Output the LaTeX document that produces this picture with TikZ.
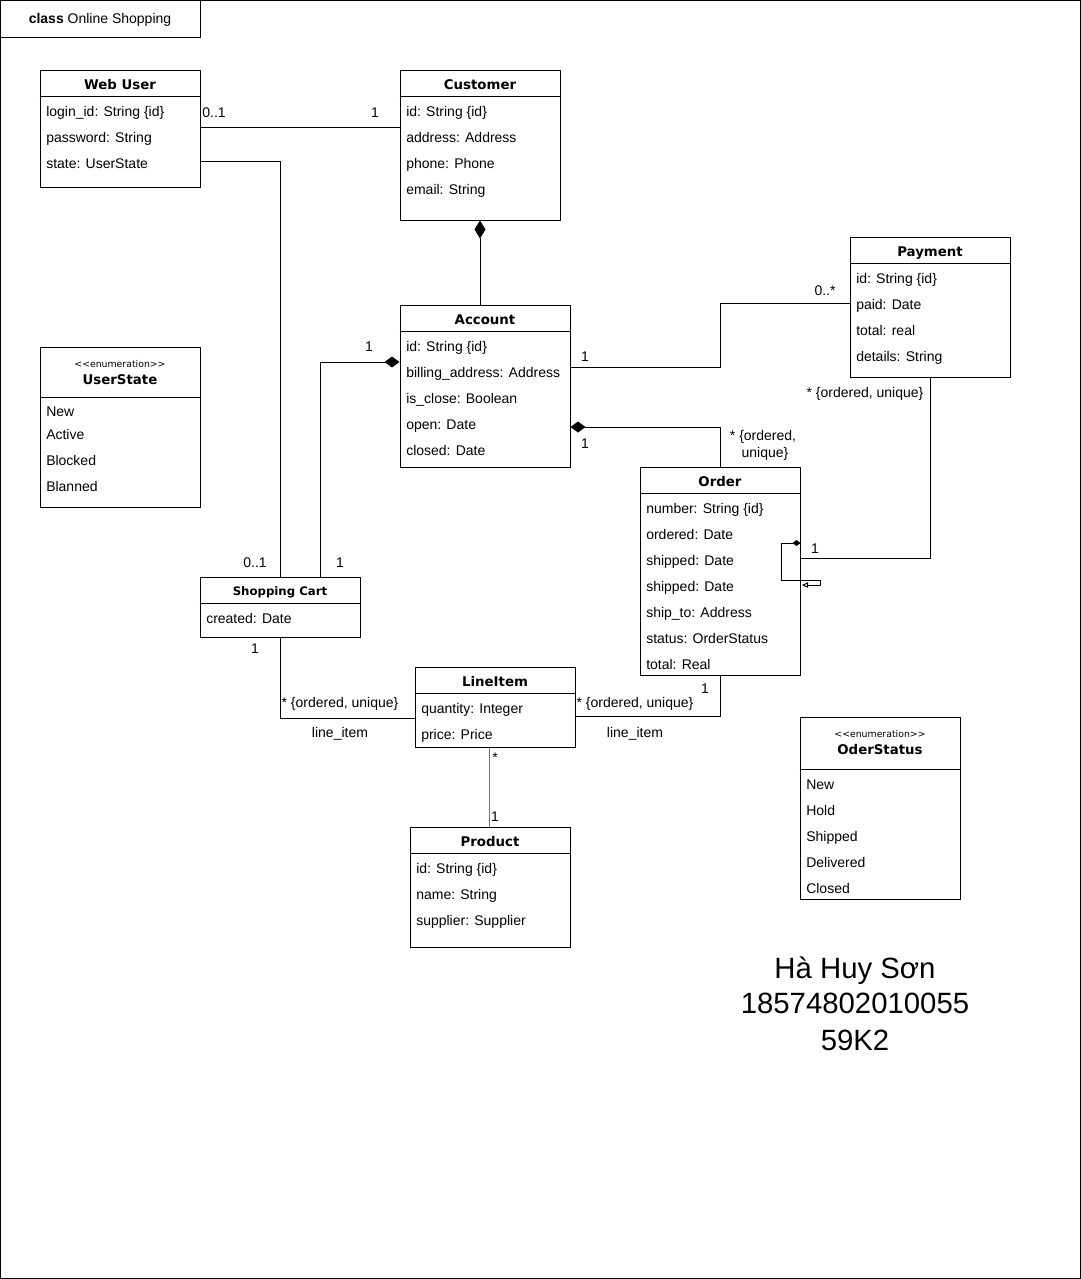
\documentclass[tikz,border=0pt]{standalone}
\usepackage{fontspec}
\setmainfont{Liberation Sans}
\newfontfamily\headfont{DejaVu Sans}
\usetikzlibrary{arrows.meta,positioning,calc,fit}
\tikzset{
  umlframe/.style = {rectangle, draw=black, line width=0.75pt, inner sep=0pt},
  classbox/.style = {rectangle, draw=black, fill=white, line width=0.75pt, inner sep=0pt},
  classrule/.style = {draw=black, line width=0.75pt},
  classname/.style = {anchor=base, inner sep=0pt, font=\headfont\bfseries\fontsize{10}{12}\selectfont},
  smallname/.style = {classname, font=\headfont\bfseries\fontsize{8.8}{11}\selectfont},
  stereo/.style = {anchor=base, inner sep=0pt, font=\headfont\fontsize{7}{8}\selectfont},
  attr/.style = {anchor=base west, inner sep=0pt, font=\fontsize{10.5}{12.6}\selectfont},
  mult/.style = {anchor=base, inner sep=0pt, font=\fontsize{10.5}{12.6}\selectfont, align=center},
  bigtext/.style = {anchor=base, inner sep=0pt, font=\fontsize{22}{26}\selectfont},
  assoc/.style = {draw=black, line width=0.75pt},
  comp/.style = {assoc, {Diamond[length=11.25pt, width=8.25pt]}-},
  compv/.style = {assoc, {Diamond[length=13.5pt, width=8.25pt]}-}
}
\begin{document}
\begin{tikzpicture}[x=0.75pt, y=-0.75pt]
  \useasboundingbox (0,0) rectangle (1081,1279);
  \node[umlframe, fit={(0.5,0.5)(1080.5,1278.5)}] (frame) {};
  \node[umlframe, fit={(0.5,0.5)(200,37)}] (tab) {};
  \node[attr, anchor=base] (tabtext) at (100,23) {\textbf{class} Online Shopping};

  % classes
  \node[classbox, fit={(40,70)(200,187)}] (webuser) {};
  \draw[classrule] (webuser.west |- 0,96) -- (webuser.east |- 0,96);
  \node[classname] (webuser-h) at (120,89) {Web User};
  \foreach \t [count=\i from 0] in {login\_id: String \{id\}, password: String, state: UserState}
    \node[attr] (webuser-\i) at (46,116+26*\i) {\t};

  \node[classbox, fit={(400,70)(560,220)}] (customer) {};
  \draw[classrule] (customer.west |- 0,96) -- (customer.east |- 0,96);
  \node[classname] (customer-h) at (480,89) {Customer};
  \foreach \t [count=\i from 0] in {id: String \{id\}, address: Address, phone: Phone, email: String}
    \node[attr] (customer-\i) at (406,116+26*\i) {\t};

  \node[classbox, fit={(850,237)(1010,377)}] (payment) {};
  \draw[classrule] (payment.west |- 0,263) -- (payment.east |- 0,263);
  \node[classname] (payment-h) at (930,256) {Payment};
  \foreach \t [count=\i from 0] in {id: String \{id\}, paid: Date, total: real, details: String}
    \node[attr] (payment-\i) at (856,283+26*\i) {\t};

  \node[classbox, fit={(400,305)(570,467)}] (account) {};
  \draw[classrule] (account.west |- 0,331) -- (account.east |- 0,331);
  \node[classname] (account-h) at (485,324) {Account};
  \foreach \t [count=\i from 0] in {id: String \{id\}, billing\_address: Address, is\_close: Boolean, open: Date, closed: Date}
    \node[attr] (account-\i) at (406,351+26*\i) {\t};

  \node[classbox, fit={(640,467)(800,675)}] (order) {};
  \draw[classrule] (order.west |- 0,493) -- (order.east |- 0,493);
  \node[classname] (order-h) at (720,486) {Order};
  \foreach \t [count=\i from 0] in {number: String \{id\}, ordered: Date, shipped: Date, shipped: Date, ship\_to: Address, status: OrderStatus, total: Real}
    \node[attr] (order-\i) at (646,513+26*\i) {\t};

  \node[classbox, fit={(200,577)(360,637)}] (cart) {};
  \draw[classrule] (cart.west |- 0,603) -- (cart.east |- 0,603);
  \node[smallname] (cart-h) at (280,595) {Shopping Cart};
  \node[attr] (cart-0) at (206,623) {created: Date};

  \node[classbox, fit={(415,667)(575,747)}] (lineitem) {};
  \draw[classrule] (lineitem.west |- 0,693) -- (lineitem.east |- 0,693);
  \node[classname] (lineitem-h) at (495,686) {LineItem};
  \foreach \t [count=\i from 0] in {quantity: Integer, price: Price}
    \node[attr] (lineitem-\i) at (421,713+26*\i) {\t};

  \node[classbox, fit={(410,827)(570,947)}] (product) {};
  \draw[classrule] (product.west |- 0,853) -- (product.east |- 0,853);
  \node[classname] (product-h) at (490,846) {Product};
  \foreach \t [count=\i from 0] in {id: String \{id\}, name: String, supplier: Supplier}
    \node[attr] (product-\i) at (416,873+26*\i) {\t};

  % enumerations
  \node[classbox, fit={(40,347)(200,507)}] (userstate) {};
  \draw[classrule] (userstate.west |- 0,397) -- (userstate.east |- 0,397);
  \node[stereo] (userstate-s) at (120,367) {<<enumeration>>};
  \node[classname] (userstate-h) at (120,384) {UserState};
  \node[attr] (userstate-0) at (46,416) {New};
  \node[attr] (userstate-1) at (46,439) {Active};
  \node[attr] (userstate-2) at (46,465) {Blocked};
  \node[attr] (userstate-3) at (46,491) {Blanned};

  \node[classbox, fit={(800,717)(960,899)}] (oderstatus) {};
  \draw[classrule] (oderstatus.west |- 0,769) -- (oderstatus.east |- 0,769);
  \node[stereo] (oderstatus-s) at (880,737) {<<enumeration>>};
  \node[classname] (oderstatus-h) at (880,754) {OderStatus};
  \foreach \t [count=\i from 0] in {New, Hold, Shipped, Delivered, Closed}
    \node[attr] (oderstatus-\i) at (806,789+26*\i) {\t};

  % associations
  \draw[assoc] (webuser.east |- 0,127) -- (customer.west |- 0,127);
  \draw[assoc] (webuser.east |- 0,161) -| (cart.north);
  \draw[compv] (customer.south) -- (account.north -| customer.south);
  \draw[comp] (account.west |- 0,362) -| (cart.north -| 320,0);
  \draw[assoc] (account.east |- 0,367) -- (720,367) |- (payment.west |- 0,303);
  \draw[comp] (account.east |- 0,427) -| (order.north);
  \draw[assoc] (payment.south) |- (order.east |- 0,558);
  \draw[assoc] (cart.south) |- (lineitem.west |- 0,718);
  \draw[assoc] (order.south) |- (lineitem.east |- 0,716);
  \draw[assoc, draw=black!55] (lineitem.south -| 489,0) -- (product.north -| 489,0);
  \coordinate (selfend) at (802,585);
  \draw[assoc, {Diamond[length=6pt, width=4.5pt]}-{Triangle[open, length=4.5pt, width=4pt]}]
    (order.east |- 0,543) -- (781,543) -- (781,580) -- (820,580) -- (820,585) -- (selfend);

  % multiplicities
  \node[mult] (m-wu) at (214,117) {0..1};
  \node[mult] (m-cu) at (375,117) {1};
  \node[mult] (m-wc) at (255,567) {0..1};
  \node[mult] (m-ac) at (340,567) {1};
  \node[mult] (m-ca) at (369,351) {1};
  \node[mult] (m-ap) at (585,361) {1};
  \node[mult] (m-pa) at (825,295) {0..*};
  \node[mult] (m-ao) at (585,448) {1};
  \node[mult] (m-oa) at (763,440) {* \{ordered,};
  \node[mult] (m-oa2) at (765,457) {unique\}};
  \node[mult] (m-op) at (865,397) {* \{ordered, unique\}};
  \node[mult] (m-po) at (815,553) {1};
  \node[mult] (m-cl) at (255,653) {1};
  \node[mult] (m-lc) at (340,707) {* \{ordered, unique\}};
  \node[mult] (r-lc) at (340,737) {line\_item};
  \node[mult] (m-ol) at (705,693) {1};
  \node[mult] (m-lo) at (635,707) {* \{ordered, unique\}};
  \node[mult] (r-lo) at (635,737) {line\_item};
  \node[mult] (m-lp) at (495,762) {*};
  \node[mult] (m-pl) at (495,821) {1};

  % student
  \node[bigtext] (name) at (855,978) {Hà Huy Sơn};
  \node[bigtext] (idno) at (855,1013) {18574802010055};
  \node[bigtext] (group) at (855,1050) {59K2};
\end{tikzpicture}
\end{document}
